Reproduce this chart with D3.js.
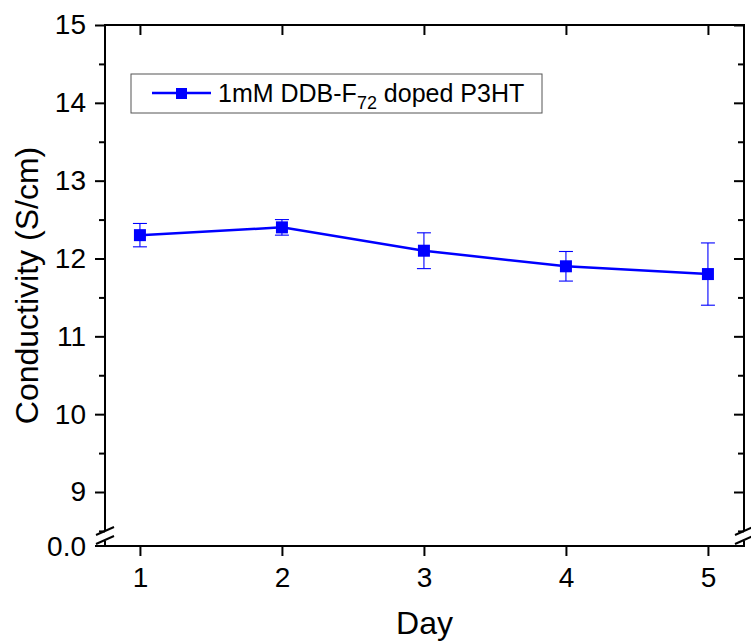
<!DOCTYPE html>
<html><head><meta charset="utf-8">
<script src="https://cdn.jsdelivr.net/npm/d3@7"></script>
<style>body{margin:0;background:#fff}svg{display:block}text{font-family:"Liberation Sans",Arial,sans-serif;fill:#000}</style>
</head><body><svg id="c" width="751" height="642"></svg>
<script>
const days = [1, 2, 3, 4, 5];
const conductivity = [12.3, 12.4, 12.1, 11.9, 11.8];
const errors = [0.15, 0.1, 0.23, 0.19, 0.4];
const yTicks = [9, 10, 11, 12, 13, 14, 15];
const yMinor = [8.5, 9.5, 10.5, 11.5, 12.5, 13.5, 14.5];
const xTicks = [1, 2, 3, 4, 5];
const seriesName = "1mM DDB-F";
const seriesSub = "72";
const seriesTail = " doped P3HT";

const L = 105, R = 744, T = 25, B = 546;
const svg = d3.select("#c");
const x = d3.scaleLinear().domain([0.754, 5.254]).range([L, R]);
const y = d3.scaleLinear().domain([9, 15]).range([492, T]);
const blue = "#0000ff";
const tickFont = "28px", titleFont = "32px";

// x axes
const gxB = svg.append("g").attr("transform", `translate(0,${B})`)
  .call(d3.axisBottom(x).tickValues(xTicks).tickSize(10).tickPadding(11).tickFormat(d3.format("d")));
const gxT = svg.append("g").attr("transform", `translate(0,${T})`)
  .call(d3.axisTop(x).tickValues(xTicks).tickSize(-10).tickFormat(""));
// y axes (upper segment)
const gyL = svg.append("g").attr("transform", `translate(${L},0)`)
  .call(d3.axisLeft(y).tickValues(yTicks).tickSize(10).tickPadding(9).tickFormat(d3.format("d")));
const gyLm = svg.append("g").attr("transform", `translate(${L},0)`)
  .call(d3.axisLeft(y).tickValues(yMinor).tickSize(6).tickFormat(""));
const gyR = svg.append("g").attr("transform", `translate(${R},0)`)
  .call(d3.axisRight(y).tickValues(yTicks).tickSize(-10).tickFormat(""));
const gyRm = svg.append("g").attr("transform", `translate(${R},0)`)
  .call(d3.axisRight(y).tickValues(yMinor).tickSize(-6).tickFormat(""));
[gxB, gxT, gyL, gyLm, gyR, gyRm].forEach(g => {
  g.select(".domain").remove();
  g.selectAll("line").attr("stroke", "#000").attr("stroke-width", 2);
  g.selectAll("text").style("font-size", tickFont).attr("fill", "#000");
});

// axis frame lines
const ax = svg.append("g").attr("stroke", "#000").attr("stroke-width", 2).attr("fill", "none");
ax.append("line").attr("x1", L - 1).attr("x2", R + 1).attr("y1", B).attr("y2", B);
ax.append("line").attr("x1", L - 1).attr("x2", R + 1).attr("y1", T).attr("y2", T);
ax.append("line").attr("x1", L).attr("x2", L).attr("y1", T).attr("y2", 531);
ax.append("line").attr("x1", R).attr("x2", R).attr("y1", T).attr("y2", 531);
ax.append("line").attr("x1", L).attr("x2", L).attr("y1", 541).attr("y2", B);
ax.append("line").attr("x1", R).attr("x2", R).attr("y1", 541).attr("y2", B);
// zero tick and label
ax.append("line").attr("x1", L - 10).attr("x2", L).attr("y1", B).attr("y2", B);
svg.append("text").attr("x", L - 19).attr("y", B).attr("dy", "0.35em")
  .attr("text-anchor", "end").style("font-size", tickFont).text("0.0");
// break marks
const brk = svg.append("g").attr("stroke", "#000").attr("stroke-width", 2);
[L, R].forEach(cx => {
  brk.append("line").attr("x1", cx - 9).attr("x2", cx + 9).attr("y1", 535).attr("y2", 527);
  brk.append("line").attr("x1", cx - 9).attr("x2", cx + 9).attr("y1", 544).attr("y2", 536);
});

// data
const pts = days.map((d, i) => ({ d, v: conductivity[i], e: errors[i] }));
const eb = svg.append("g").attr("stroke", blue).attr("stroke-width", 1.1);
pts.forEach(p => {
  const cx = x(p.d);
  eb.append("line").attr("x1", cx).attr("x2", cx).attr("y1", y(p.v + p.e)).attr("y2", y(p.v - p.e));
  eb.append("line").attr("x1", cx - 7).attr("x2", cx + 7).attr("y1", y(p.v + p.e)).attr("y2", y(p.v + p.e));
  eb.append("line").attr("x1", cx - 7).attr("x2", cx + 7).attr("y1", y(p.v - p.e)).attr("y2", y(p.v - p.e));
});
svg.append("path").datum(pts)
  .attr("d", d3.line().x(p => x(p.d)).y(p => y(p.v)))
  .attr("fill", "none").attr("stroke", blue).attr("stroke-width", 2.5);
svg.append("g").selectAll("rect").data(pts).join("rect")
  .attr("x", p => x(p.d) - 6).attr("y", p => y(p.v) - 6)
  .attr("width", 12).attr("height", 12).attr("fill", blue);

// legend
const lg = svg.append("g");
lg.append("rect").attr("x", 131).attr("y", 74).attr("width", 411).attr("height", 39)
  .attr("fill", "#fff").attr("stroke", "#555").attr("stroke-width", 1);
lg.append("line").attr("x1", 152).attr("x2", 211).attr("y1", 93).attr("y2", 93)
  .attr("stroke", blue).attr("stroke-width", 2.5);
lg.append("rect").attr("x", 176).attr("y", 88).attr("width", 11).attr("height", 11).attr("fill", blue);
const lt = lg.append("text").attr("x", 218).attr("y", 102).style("font-size", "25px");
lt.append("tspan").text(seriesName);
lt.append("tspan").attr("dy", 7).style("font-size", "18px").text(seriesSub);
lt.append("tspan").attr("dy", -7).text(seriesTail);

// axis titles
svg.append("text").attr("transform", `translate(38,${(T + B) / 2}) rotate(-90)`)
  .attr("text-anchor", "middle").style("font-size", titleFont).text("Conductivity (S/cm)");
svg.append("text").attr("x", (L + R) / 2).attr("y", 634).attr("text-anchor", "middle")
  .style("font-size", titleFont).text("Day");
</script></body></html>
